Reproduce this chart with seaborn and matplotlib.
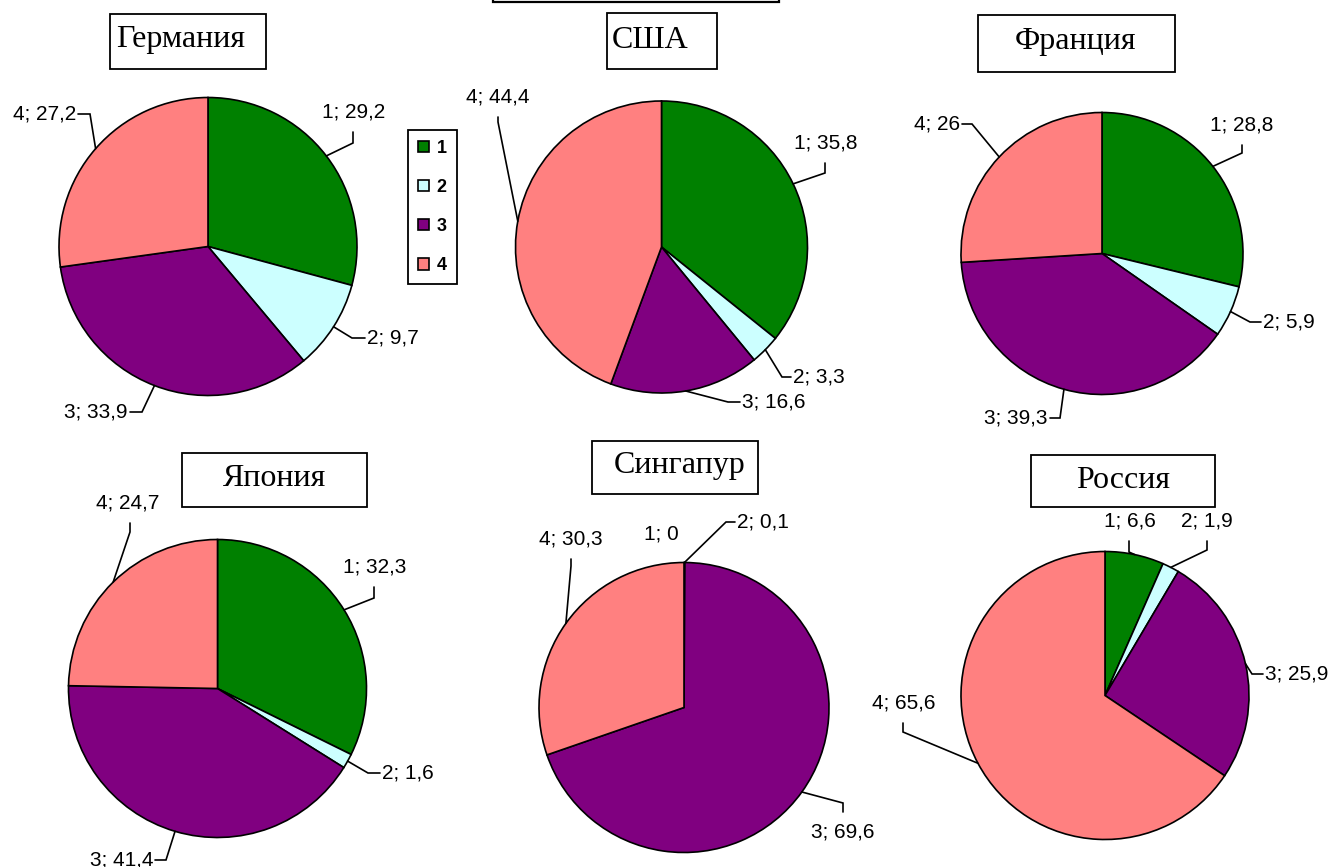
import seaborn as sns
from matplotlib import pyplot as plt
from matplotlib.patches import Rectangle
import numpy as np

# data
categories = ['1', '2', '3', '4']
countries = ['Германия', 'США', 'Франция', 'Япония', 'Сингапур', 'Россия']
germany = [29.2, 9.7, 33.9, 27.2]
usa = [35.8, 3.3, 16.6, 44.4]
france = [28.8, 5.9, 39.3, 26.0]
japan = [32.3, 1.6, 41.4, 24.7]
singapore = [0.0, 0.1, 69.6, 30.3]
russia = [6.6, 1.9, 25.9, 65.6]
shares = [germany, usa, france, japan, singapore, russia]

colors = ['#008000', '#CCFFFF', '#800080', '#FF8080']

W, H = 1332, 867

# layout in pixels: pie centre + radius, title box and title centre
pies = [((208, 246.5), 149), ((661.5, 247), 146), ((1102, 253.5), 141),
        ((217.5, 688.5), 149), ((684, 707.5), 145), ((1105, 695.5), 144)]
boxes = [(110, 14, 266, 69), (607, 13, 717, 69), (978, 15, 1175, 72),
         (182, 453, 367, 507), (592, 441, 758, 494), (1031, 455, 1215, 507)]
titlePos = [(181, 40), (650, 40), (1075, 42), (275, 479), (680, 466), (1123, 480)]

# label text anchor, alignment, leader knee
labelLayout = [
    [((354, 112), 'center', (353, 143)), ((367, 338), 'left', (352, 338)),
     ((128, 412), 'right', (142, 412)), ((76, 114), 'right', (90, 114))],
    [((826, 143), 'center', (825, 173)), ((793, 377), 'left', (782, 377)),
     ((742, 402), 'left', (728, 402)), ((498, 97), 'center', (498, 122))],
    [((1242, 125), 'center', (1242, 153)), ((1263, 322), 'left', (1250, 322)),
     ((1048, 418), 'right', (1060, 418)), ((960, 124), 'right', (972, 124))],
    [((375, 567), 'center', (374, 598)), ((382, 773), 'left', (368, 773)),
     ((153, 860), 'right', (166, 860)), ((128, 503), 'center', (130, 532))],
    [((661, 534), 'center', None), ((737, 522), 'left', (726, 522)),
     ((843, 832), 'center', (843, 803)), ((571, 539), 'center', (571, 566))],
    [((1130, 521), 'center', (1129, 552)), ((1207, 521), 'center', (1207, 550)),
     ((1265, 674), 'left', (1252, 674)), ((904, 703), 'center', (903, 732))],
]


def fmt(v):
    return f'{v:g}'.replace('.', ',')


sns.set_style('white')
plt.rcParams['font.family'] = ['Liberation Sans', 'DejaVu Sans']
plt.rcParams['text.color'] = 'black'

fig = plt.figure(figsize=(W / 100, H / 100), dpi=100)
ax = fig.add_axes([0, 0, 1, 1])

firstWedges = None
for k, values in enumerate(shares):
    (cx, cy), r = pies[k]
    wedges, _ = ax.pie(values, colors=colors, center=(cx, cy), radius=r,
                       startangle=-90, counterclock=True,
                       wedgeprops=dict(edgecolor='black', linewidth=1.2))
    if firstWedges is None:
        firstWedges = wedges

    for i, w in enumerate(wedges):
        (tx, ty), ha, knee = labelLayout[k][i]
        ax.text(tx, ty, f'{categories[i]}; {fmt(values[i])}', ha=ha, va='center',
                fontsize=15, color='black')
        if knee is None:
            continue
        mid = np.deg2rad((w.theta1 + w.theta2) / 2)
        ex, ey = cx + r * np.cos(mid), cy + r * np.sin(mid)
        kx, ky = knee
        if ha == 'left':
            sx, sy = tx - 2, ky
        elif ha == 'right':
            sx, sy = tx + 2, ky
        else:
            sx, sy = kx, ty + 20 * np.sign(ky - ty)
        ax.plot([ex, kx, sx], [ey, ky, sy], color='black', lw=1.2,
                solid_joinstyle='miter')

    x0, y0, x1, y1 = boxes[k]
    ax.add_patch(Rectangle((x0, y0), x1 - x0, y1 - y0, fill=False,
                           edgecolor='black', lw=1.3))
    ax.text(*titlePos[k], countries[k], ha='center', va='center', fontsize=23,
            color='black', family=['Liberation Serif', 'DejaVu Serif'])

# cut-off box at the very top
ax.add_patch(Rectangle((493, -20), 286, 22, fill=False, edgecolor='black', lw=1.6))

ax.set_xlim(0, W)
ax.set_ylim(H, 0)
ax.set_aspect('auto')
ax.axis('off')

leg = ax.legend(firstWedges, categories, loc='upper left',
                bbox_to_anchor=(408 / W, 1 - 130 / H), bbox_transform=fig.transFigure,
                fancybox=False, edgecolor='black', framealpha=1,
                borderpad=0.55, handlelength=0.62, handleheight=0.62,
                handletextpad=0.42, labelspacing=1.22, borderaxespad=0,
                labelcolor='black', prop=dict(weight='bold', size=13))
leg.get_frame().set_linewidth(1.3)

fig.savefig('out.png', dpi=100)
plt.close(fig)
